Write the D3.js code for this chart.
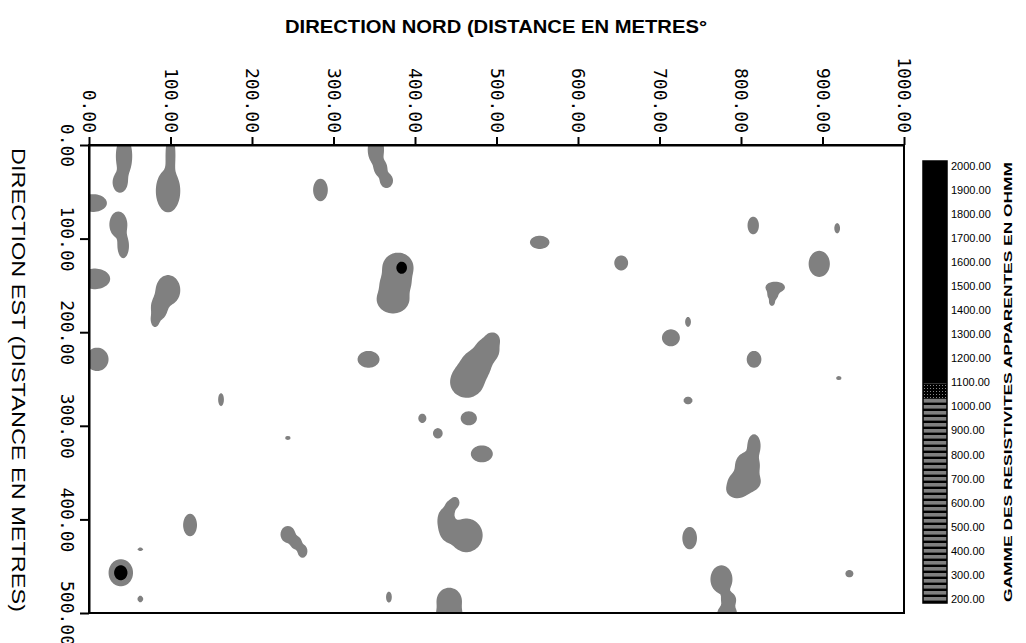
<!DOCTYPE html>
<html>
<head>
<meta charset="utf-8">
<script src="https://cdn.jsdelivr.net/npm/d3@7"></script>
<style>
  body { margin: 0; background: #fff; }
  svg { display: block; }
</style>
</head>
<body>
<svg id="chart" width="1026" height="643"></svg>
<script>
// axes (metres) and legend ticks (ohm.m)
const xTicks = [0, 100, 200, 300, 400, 500, 600, 700, 800, 900, 1000];
const yTicks = [0, 100, 200, 300, 400, 500];
const legendTicks = [200, 300, 400, 500, 600, 700, 800, 900, 1000, 1100,
  1200, 1300, 1400, 1500, 1600, 1700, 1800, 1900, 2000];

// contour levels : gray from levels[0], black from levels[1]
const levels = [300, 1050];
const grayPeak = 700;

const grayAnomalies = [
  [43, 12, 10, 22], [38, 40, 9, 11],
  [100, 10, 6, 22], [97, 49, 15, 23],
  [5, 62, 17, 9.5],
  [36, 85, 11, 14], [42, 108, 7, 13],
  [7, 143, 19, 11],
  [97, 155, 15, 16], [86, 174, 10, 13], [81, 187, 5, 7.5],
  [10, 229, 14, 12.5],
  [284, 48, 9, 12],
  [162, 272, 3.5, 7],
  [244, 313, 3.5, 2],
  [124, 406, 8.5, 12],
  [244, 416, 9, 9], [254, 425, 7, 7], [262, 434, 6, 7],
  [63, 432, 3.5, 2],
  [63, 485, 3.5, 3.5],
  [352, 5, 10, 16], [358, 25, 8, 9], [365, 38, 8, 8],
  [379, 131, 19, 16], [376, 148, 18, 12], [373, 165, 20, 15],
  [553, 104, 12, 7],
  [343, 229, 13.5, 9],
  [495, 208, 8.5, 7.5], [489, 219, 14.5, 13], [475, 235, 18, 16], [464, 251, 19.5, 17], [463, 256, 15, 11],
  [409, 292, 5, 5],
  [428, 308, 6, 5.5],
  [466, 292, 10, 7.5],
  [482, 330, 13.5, 9],
  [449, 382, 5.5, 6], [443, 388, 6, 8], [437, 400, 9, 12], [440, 410, 10, 13], [463, 417, 20, 18],
  [368, 483, 3.5, 6],
  [442, 487, 15.5, 14], [442, 502, 15.5, 10],
  [653, 126, 8.5, 8],
  [815, 86, 7, 9.5],
  [918, 89, 3.5, 5.5],
  [896, 127, 13, 14],
  [842, 152, 12, 6], [839, 160, 6.5, 6], [838, 168, 3.5, 4],
  [735, 189, 3.5, 5.5],
  [714, 206, 11, 9],
  [816, 229, 9, 9],
  [920, 249, 3.5, 2],
  [735, 273, 5.5, 4],
  [816, 321, 8, 12], [808, 342, 15, 14], [804, 360, 20, 12], [795, 369, 12, 8],
  [737, 420, 9, 12],
  [776, 464, 13.5, 15], [785, 486, 9, 8], [783, 500, 12, 9],
  [933, 458, 5, 4]
];

// strong cores (black) : [nord, est, rayon nord, rayon est, resistivite max]
const highCores = [
  [384, 131, 10, 10, 1800],
  [39, 457, 15, 14.5, 1800]
];

const svg = d3.select("#chart");
const plot = {left: 89, top: 145, right: 904, bottom: 613};

const x = d3.scaleLinear().domain([0, 1000]).range([plot.left, plot.right]);
const y = d3.scaleLinear().domain([0, 500]).range([plot.top, plot.bottom]);
const fmt = d => d.toFixed(2);

// --- grid of apparent resistivity built from the anomalies (soft union, 2-norm)
const step = 2;
const nx = 1000 / step + 1, ny = 500 / step + 1;
const values = new Float64Array(nx * ny);

const anomalies = grayAnomalies.map(a => a.concat([grayPeak])).concat(highCores);
anomalies.forEach(([ax, ay, rx, ry, peak]) => {
  const k = Math.log(peak / levels[0]);
  const i0 = Math.max(0, Math.floor((ax - 2 * rx) / step));
  const i1 = Math.min(nx - 1, Math.ceil((ax + 2 * rx) / step));
  const j0 = Math.max(0, Math.floor((ay - 2 * ry) / step));
  const j1 = Math.min(ny - 1, Math.ceil((ay + 2 * ry) / step));
  for (let j = j0; j <= j1; j++) {
    for (let i = i0; i <= i1; i++) {
      const dx = (i * step - ax) / rx, dy = (j * step - ay) / ry;
      const d2 = dx * dx + dy * dy;
      if (d2 > 4) continue;
      const v = levels[0] * Math.exp(k * (1 - d2));
      values[i + j * nx] += v * v;
    }
  }
});
for (let n = 0; n < values.length; n++) values[n] = Math.sqrt(values[n]);

const contours = d3.contours().size([nx, ny]).thresholds(levels)(values);
const proj = d3.geoTransform({
  point(px, py) { this.stream.point(x((px - 0.5) * step), y((py - 0.5) * step)); }
});
const path = d3.geoPath(proj);

const defs = svg.append("defs");
defs.append("clipPath").attr("id", "clip")
  .append("rect")
  .attr("x", plot.left).attr("y", plot.top)
  .attr("width", plot.right - plot.left).attr("height", plot.bottom - plot.top);

const fills = {300: "#808080", 1050: "#000"};
svg.append("g")
  .attr("clip-path", "url(#clip)")
  .selectAll("path")
  .data(contours)
  .join("path")
  .attr("d", path)
  .attr("fill", d => fills[d.value]);

// --- frame and axes
svg.append("rect")
  .attr("x", plot.left).attr("y", plot.top)
  .attr("width", plot.right - plot.left).attr("height", plot.bottom - plot.top)
  .attr("fill", "none").attr("stroke", "#000").attr("stroke-width", 2);

const xAxis = svg.append("g")
  .attr("transform", `translate(0,${plot.top})`)
  .call(d3.axisTop(x).tickValues(xTicks).tickSize(8).tickSizeOuter(0).tickFormat(fmt));

xAxis.selectAll("text")
  .attr("font-family", "DejaVu Sans Mono")
  .attr("font-size", 18)
  .attr("fill", "#000")
  .attr("text-anchor", "end")
  .attr("x", 0).attr("y", 0).attr("dy", "0.35em")
  .attr("transform", "translate(0,-12) rotate(90)");

const yAxis = svg.append("g")
  .attr("transform", `translate(${plot.left},0)`)
  .call(d3.axisLeft(y).tickValues(yTicks).tickSize(9).tickSizeOuter(0).tickFormat(fmt));

yAxis.selectAll("text")
  .attr("font-family", "DejaVu Sans Mono")
  .attr("font-size", 18)
  .attr("fill", "#000")
  .attr("text-anchor", "middle")
  .attr("x", 0).attr("y", 0).attr("dy", "0.35em")
  .attr("transform", "translate(-22,0) rotate(90)");

svg.selectAll(".tick line").attr("stroke", "#000").attr("stroke-width", 2);
svg.selectAll(".domain").attr("stroke", "#000").attr("stroke-width", 2);

// titles
svg.append("text")
  .attr("x", 496).attr("y", 33)
  .attr("text-anchor", "middle")
  .attr("font-family", "Liberation Sans")
  .attr("font-weight", "bold")
  .attr("font-size", 19)
  .attr("textLength", 422)
  .attr("lengthAdjust", "spacingAndGlyphs")
  .text("DIRECTION NORD (DISTANCE EN METRES°");

svg.append("text")
  .attr("transform", "translate(12,380) rotate(90)")
  .attr("text-anchor", "middle")
  .attr("font-family", "Liberation Sans")
  .attr("font-size", 18)
  .attr("textLength", 464)
  .attr("lengthAdjust", "spacingAndGlyphs")
  .text("DIRECTION EST (DISTANCE EN METRES)");

// --- colour scale
const bar = {x: 923, w: 24, top: 161, bottom: 603};
const cScale = d3.scaleLinear().domain([200, 2000]).range([599, 166]);

const stripes = defs.append("pattern").attr("id", "stripes")
  .attr("patternUnits", "userSpaceOnUse").attr("width", 24).attr("height", 6)
  .attr("x", bar.x).attr("y", bar.bottom);
stripes.append("rect").attr("width", 24).attr("height", 6).attr("fill", "#000");
stripes.append("rect").attr("y", 0).attr("width", 24).attr("height", 3.6).attr("fill", "#7f7f7f");

const dots = defs.append("pattern").attr("id", "dots")
  .attr("patternUnits", "userSpaceOnUse").attr("width", 3).attr("height", 3)
  .attr("x", bar.x).attr("y", 0);
dots.append("rect").attr("width", 3).attr("height", 3).attr("fill", "#000");
dots.append("rect").attr("x", 1).attr("y", 1).attr("width", 1).attr("height", 1).attr("fill", "#888");

const legend = svg.append("g");
const yHigh = cScale(levels[1] + 45);
const yLow = cScale(levels[1] - 15);
legend.append("rect")
  .attr("x", bar.x).attr("y", bar.top).attr("width", bar.w).attr("height", yHigh - bar.top)
  .attr("fill", "#000");
legend.append("rect")
  .attr("x", bar.x).attr("y", yHigh).attr("width", bar.w).attr("height", yLow - yHigh)
  .attr("fill", "url(#dots)");
legend.append("rect")
  .attr("x", bar.x).attr("y", yLow).attr("width", bar.w).attr("height", bar.bottom - yLow)
  .attr("fill", "url(#stripes)");
legend.append("rect")
  .attr("x", bar.x).attr("y", bar.top).attr("width", bar.w).attr("height", bar.bottom - bar.top)
  .attr("fill", "none").attr("stroke", "#000").attr("stroke-width", 1.5);

legend.selectAll("text.tick")
  .data(legendTicks)
  .join("text")
  .attr("class", "tick")
  .attr("x", bar.x + bar.w + 4)
  .attr("y", d => cScale(d))
  .attr("dy", "0.35em")
  .attr("font-family", "Liberation Sans")
  .attr("font-size", 11)
  .attr("fill", "#000")
  .text(fmt);

svg.append("text")
  .attr("transform", "translate(1012,382) rotate(-90)")
  .attr("text-anchor", "middle")
  .attr("font-family", "Liberation Sans")
  .attr("font-weight", "bold")
  .attr("font-size", 11)
  .attr("textLength", 440)
  .attr("lengthAdjust", "spacingAndGlyphs")
  .text("GAMME DES RESISTIVITES APPARENTES EN OHMM");
</script>
</body>
</html>
